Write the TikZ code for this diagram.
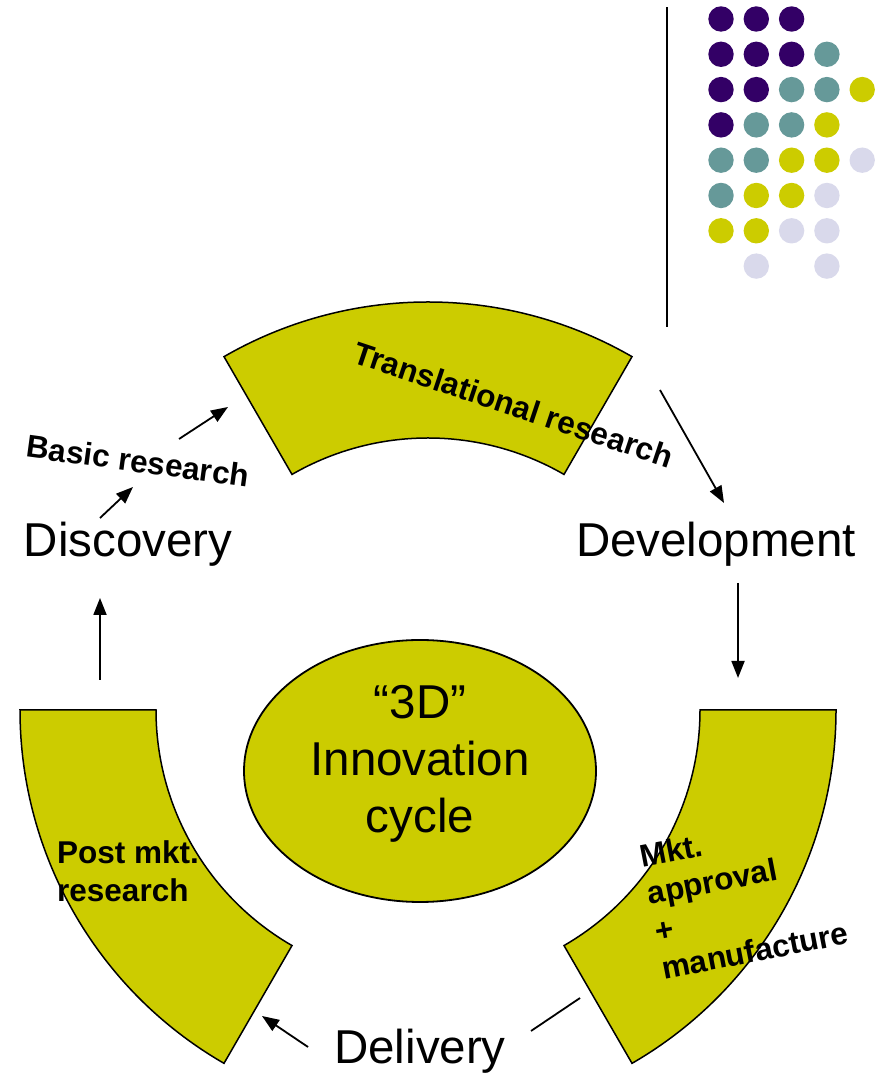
\documentclass[tikz,border=0pt]{standalone}
\usepackage{fontspec}
\setmainfont{Liberation Sans}
\usepackage{xcolor}
\usepackage{tikz}
\usetikzlibrary{
    positioning,
    arrows.meta,
    shapes.geometric,
    calc
}
\definecolor{bandolive}{HTML}{CCCC00}
\definecolor{dotpurple}{HTML}{330066}
\definecolor{dotteal}{HTML}{669999}
\definecolor{dotlavender}{HTML}{D9D9EB}
\tikzset{
    band/.style={
        draw=black, line width=1.5pt, fill=bandolive
    },
    hub/.style={
        ellipse, draw=black, line width=1.8pt, fill=bandolive,
        minimum width=352pt, minimum height=262pt, inner sep=0pt
    },
    stage/.style={
        font=\fontsize{47.5}{57}\selectfont, inner sep=0pt
    },
    tag/.style={
        font=\fontsize{31.5}{38}\selectfont\bfseries, inner sep=0pt, align=left
    },
    arrow/.style={
        -{Triangle[length=17pt, width=13pt]}, line width=1.8pt
    },
    link/.style={
        line width=1.8pt
    }
}

\begin{document}
\begin{tikzpicture}[
        x=1pt, y=1pt,
        dotP/.style={fill=dotpurple},
        dotT/.style={fill=dotteal},
        dotO/.style={fill=bandolive},
        dotL/.style={fill=dotlavender},
        dotN/.style={}
    ]
    \useasboundingbox (0,0) rectangle (886,1078);

    % DOT GRID + RULE
    \draw[line width=2.2pt] (667,751) -- (667,1071);
    \foreach \row/\tones in {0/{P,P,P}, 1/{P,P,P,T}, 2/{P,P,T,T,O}, 3/{P,T,T,O},
                             4/{T,T,O,O,L}, 5/{T,O,O,L}, 6/{O,O,L,L}, 7/{N,L,N,L}}
        \foreach \tone [count=\col from 0] in \tones
            \path[dot\tone] (721+35.3*\col, 1059-35.3*\row) circle[radius=12.7pt];

    % CYCLE BANDS
    \coordinate (cyc) at (428,368);
    \draw[band] ($(cyc)+(60:408)$) arc[start angle=60, end angle=120, radius=408pt]
        -- ($(cyc)+(120:272)$) arc[start angle=120, end angle=60, radius=272pt] -- cycle;
    \draw[band] ($(cyc)+(180:408)$) arc[start angle=180, end angle=240, radius=408pt]
        -- ($(cyc)+(240:272)$) arc[start angle=240, end angle=180, radius=272pt] -- cycle;
    \draw[band] ($(cyc)+(300:408)$) arc[start angle=300, end angle=360, radius=408pt]
        -- ($(cyc)+(0:272)$) arc[start angle=360, end angle=300, radius=272pt] -- cycle;

    % HUB
    \node[hub] (hub) at (420,307) {};
    \node[stage, align=center] (hub_text) at (420,314) {“3D”\\Innovation\\cycle};

    % STAGES
    \node[stage, anchor=base] (discovery) at (128,521) {Discovery};
    \node[stage, anchor=base] (development) at (716,521) {Development};
    \node[stage, anchor=base] (delivery) at (420,14) {Delivery};

    % BAND LABELS
    \node[tag, anchor=base, rotate=-7.7] (basic) at (136.5,606) {Basic research};
    \node[tag, anchor=base, rotate=-18.5] (translational) at (510,662.5) {Translational research};
    \node[tag, anchor=north west] (post_mkt) at (57,238) {Post mkt.\\research};
    \node[tag, anchor=north west, rotate=11] (mkt) at (638,233) {Mkt.\\approval\\+\\manufacture};

    % Connections
    \coordinate (disc_out) at (100,560);
    \coordinate (basic_in) at (133,591);
    \coordinate (basic_out) at (179,639);
    \coordinate (trans_in) at (228,671);
    \coordinate (trans_out) at (660,688);
    \coordinate (dev_in) at (724,575);
    \coordinate (dev_out) at (738,495);
    \coordinate (mkt_in) at (738,400);
    \coordinate (mkt_out) at (580,80);
    \coordinate (deliv_in) at (531,47);
    \coordinate (deliv_out) at (308,31);
    \coordinate (post_in) at (262,62);
    \coordinate (post_out) at (100,398);
    \coordinate (disc_in) at (100,480);

    \draw[arrow] (disc_out) -- (basic_in);
    \draw[arrow] (basic_out) -- (trans_in);
    \draw[arrow] (trans_out) -- (dev_in);
    \draw[arrow] (dev_out) -- (mkt_in);
    \draw[link] (mkt_out) -- (deliv_in);
    \draw[arrow] (deliv_out) -- (post_in);
    \draw[arrow] (post_out) -- (disc_in);

\end{tikzpicture}
\end{document}
